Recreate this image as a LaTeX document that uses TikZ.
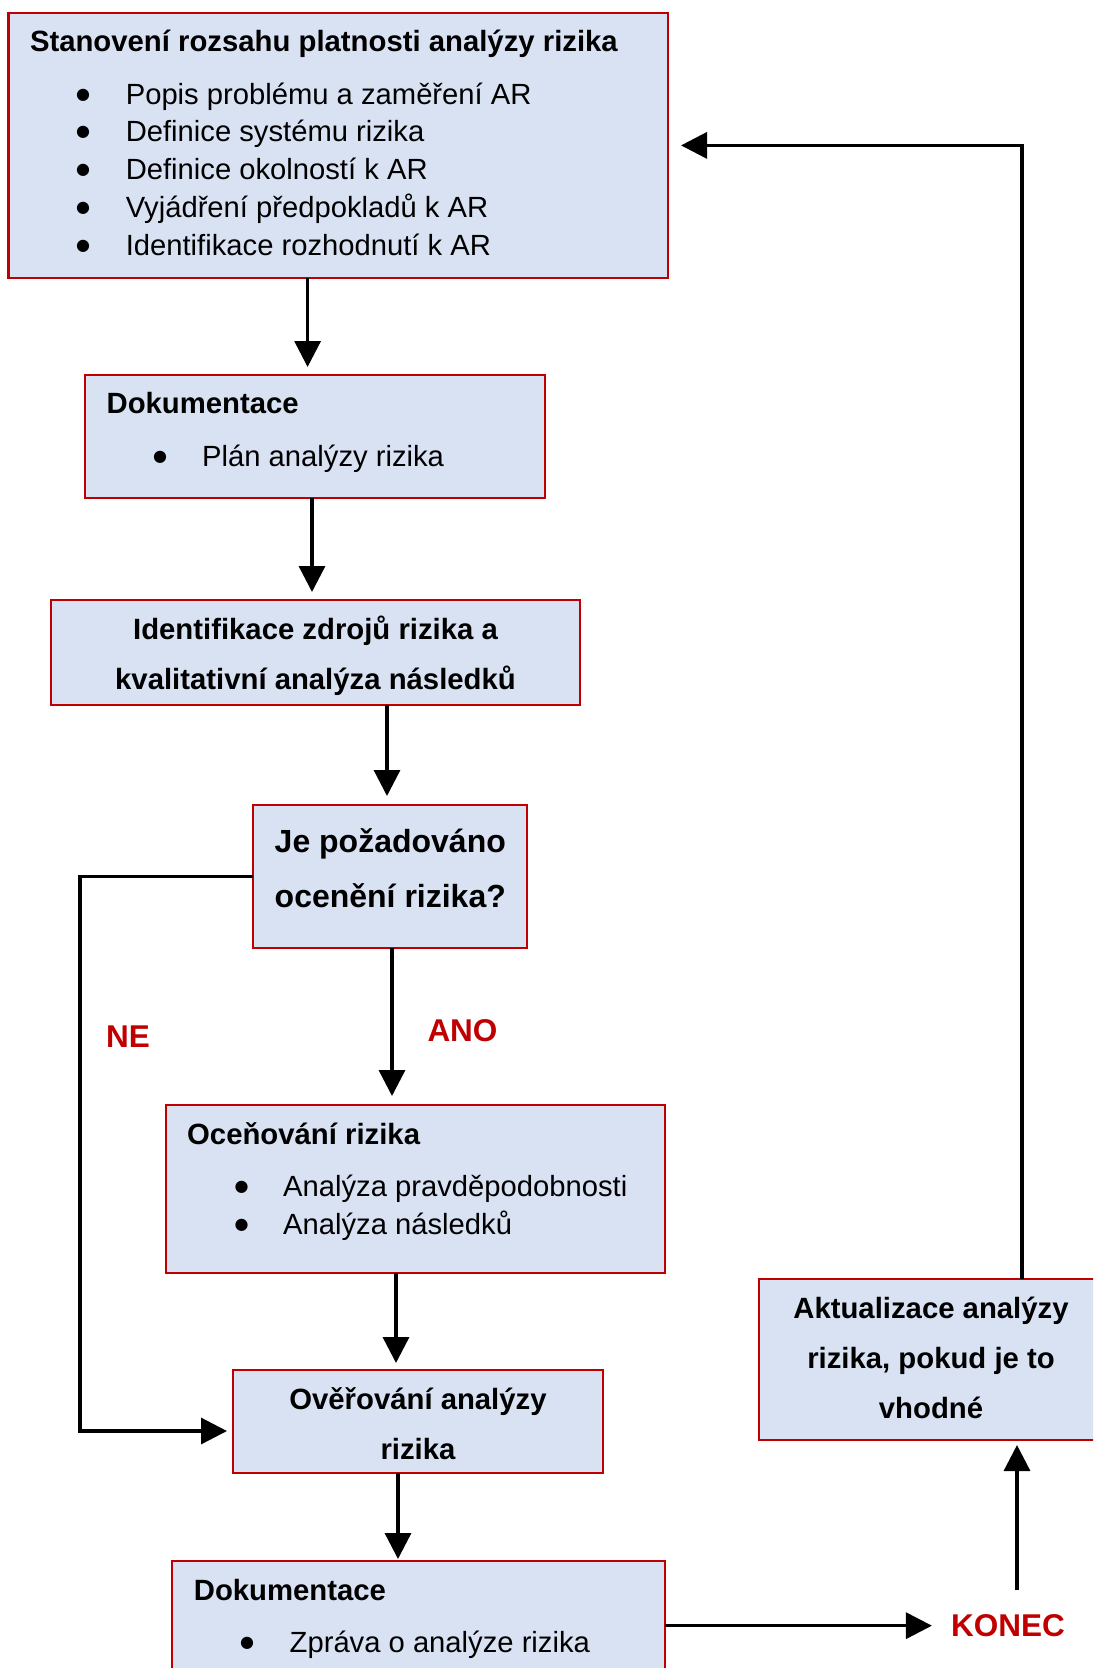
\documentclass[tikz,border=0pt]{standalone}
\usepackage{fontspec}
\setmainfont{Liberation Sans}
\newfontfamily\djfont{DejaVu Sans}
\usetikzlibrary{arrows.meta}
\definecolor{boxfill}{HTML}{D9E2F3}
\definecolor{boxred}{HTML}{C00000}
\begin{document}
\begin{tikzpicture}[x=1pt,y=-1pt,
  box/.style={draw=boxred, fill=boxfill, line width=2.5pt, inner sep=0pt, outer sep=0pt},
  tb/.style={font=\fontsize{29.3}{35}\selectfont\bfseries, inner sep=0pt},
  tr/.style={font=\fontsize{29.2}{35}\selectfont, inner sep=0pt},
  bul/.style={font=\djfont\fontsize{16}{18}\selectfont, inner sep=0pt, anchor=center},
  tq/.style={font=\fontsize{32}{38}\selectfont\bfseries, inner sep=0pt},
  lab/.style={font=\fontsize{31.5}{38}\selectfont\bfseries, text=boxred, inner sep=0pt},
  arr/.style={line width=3.3pt, -{Triangle[length=26pt,width=26pt]}}
]
\useasboundingbox (0,0) rectangle (1093,1668);
\clip (0,0) rectangle (1093,1668);
% boxes
\node[box, minimum width=659.5pt, minimum height=265.2pt] (b1) at (338.25,145.4) {};
\node[box, minimum width=460pt, minimum height=123pt] (b2) at (315,436.5) {};
\node[box, minimum width=529pt, minimum height=105pt] (b3) at (315.5,652.5) {};
\node[box, minimum width=274pt, minimum height=143pt] (b4) at (390,876.5) {};
\node[box, minimum width=499pt, minimum height=168pt] (b5) at (415.5,1189) {};
\node[box, minimum width=370pt, minimum height=103pt] (b6) at (418,1421.5) {};
\node[box, minimum width=493pt, minimum height=139pt] (b7) at (418.5,1630.5) {};
\node[box, minimum width=344pt, minimum height=161pt] (b8) at (931,1359.5) {};
% box 1 text
\node[tb, anchor=base west] (t1) at (29.8,51.5) {Stanovení rozsahu platnosti analýzy rizika};
\node[bul] (t1d1) at (83,95) {●};
\node[tr, anchor=base west] (t1i1) at (125.6,104) {Popis problému a zaměření AR};
\node[bul] (t1d2) at (83,132.7) {●};
\node[tr, anchor=base west] (t1i2) at (125.6,141.7) {Definice systému rizika};
\node[bul] (t1d3) at (83,170.3) {●};
\node[tr, anchor=base west] (t1i3) at (125.6,179.3) {Definice okolností k AR};
\node[bul] (t1d4) at (83,208) {●};
\node[tr, anchor=base west] (t1i4) at (125.6,217) {Vyjádření předpokladů k AR};
\node[bul] (t1d5) at (83,246) {●};
\node[tr, anchor=base west] (t1i5) at (125.6,255) {Identifikace rozhodnutí k AR};
% box 2 text
\node[tb, anchor=base west] (t2) at (106.4,413.5) {Dokumentace};
\node[bul] (t2d1) at (160,457) {●};
\node[tr, anchor=base west] (t2i1) at (202,466) {Plán analýzy rizika};
% box 3 text
\node[tb, anchor=base] (t3a) at (315.5,639.5) {Identifikace zdrojů rizika a};
\node[tb, anchor=base] (t3b) at (315.5,689.5) {kvalitativní analýza následků};
% box 4 text
\node[tq, anchor=base] (t4a) at (390.3,852.5) {Je požadováno};
\node[tq, anchor=base] (t4b) at (390.3,907.5) {ocenění rizika?};
% box 5 text
\node[tb, anchor=base west] (t5) at (187,1144) {Oceňování rizika};
\node[bul] (t5d1) at (241.6,1187) {●};
\node[tr, anchor=base west] (t5i1) at (283,1196) {Analýza pravděpodobnosti};
\node[bul] (t5d2) at (241.6,1225.5) {●};
\node[tr, anchor=base west] (t5i2) at (283,1234.5) {Analýza následků};
% box 6 text
\node[tb, anchor=base] (t6a) at (418,1409) {Ověřování analýzy};
\node[tb, anchor=base] (t6b) at (418,1459) {rizika};
% box 7 text
\node[tb, anchor=base west] (t7) at (193.7,1600.5) {Dokumentace};
\node[bul] (t7d1) at (247,1643.5) {●};
\node[tr, anchor=base west] (t7i1) at (289.5,1652.5) {Zpráva o analýze rizika};
% box 8 text
\node[tb, anchor=base] (t8a) at (931,1318.5) {Aktualizace analýzy};
\node[tb, anchor=base] (t8b) at (931,1368.5) {rizika, pokud je to};
\node[tb, anchor=base] (t8c) at (931,1418.5) {vhodné};
% labels
\node[lab, anchor=base] (ne) at (128,1047) {NE};
\node[lab, anchor=base] (ano) at (462.5,1041.5) {ANO};
\node[lab, anchor=base] (kon) at (1008,1636.5) {KONEC};
% connectors
\draw[arr] ([xshift=-30.65pt]b1.south) -- ([xshift=-7.4pt,yshift=8pt]b2.north);
\draw[arr] ([xshift=-3pt]b2.south) -- ([xshift=-3.5pt,yshift=8pt]b3.north);
\draw[arr] ([xshift=71.5pt]b3.south) -- ([xshift=-3pt,yshift=9pt]b4.north);
\draw[arr] ([xshift=2pt]b4.south) -- ([xshift=-23.5pt,yshift=9pt]b5.north);
\draw[arr] (b4.west) -- ++(-173,0) |- ([xshift=-6pt,yshift=-9.5pt]b6.west);
\draw[arr] ([xshift=-19.5pt]b5.south) -- ([xshift=-22pt,yshift=7pt]b6.north);
\draw[arr] ([xshift=-20pt]b6.south) -- ([xshift=-20.5pt,yshift=2pt]b7.north);
\draw[arr] (b7.east |- kon.west) -- ([xshift=-19pt]kon.west);
\draw[arr] ([xshift=9pt,yshift=24pt]kon.north) -- ([xshift=86pt,yshift=-5pt]b8.south);
\draw[arr] ([xshift=91pt]b8.north) |- ([xshift=13pt]b1.east);
\end{tikzpicture}
\end{document}
